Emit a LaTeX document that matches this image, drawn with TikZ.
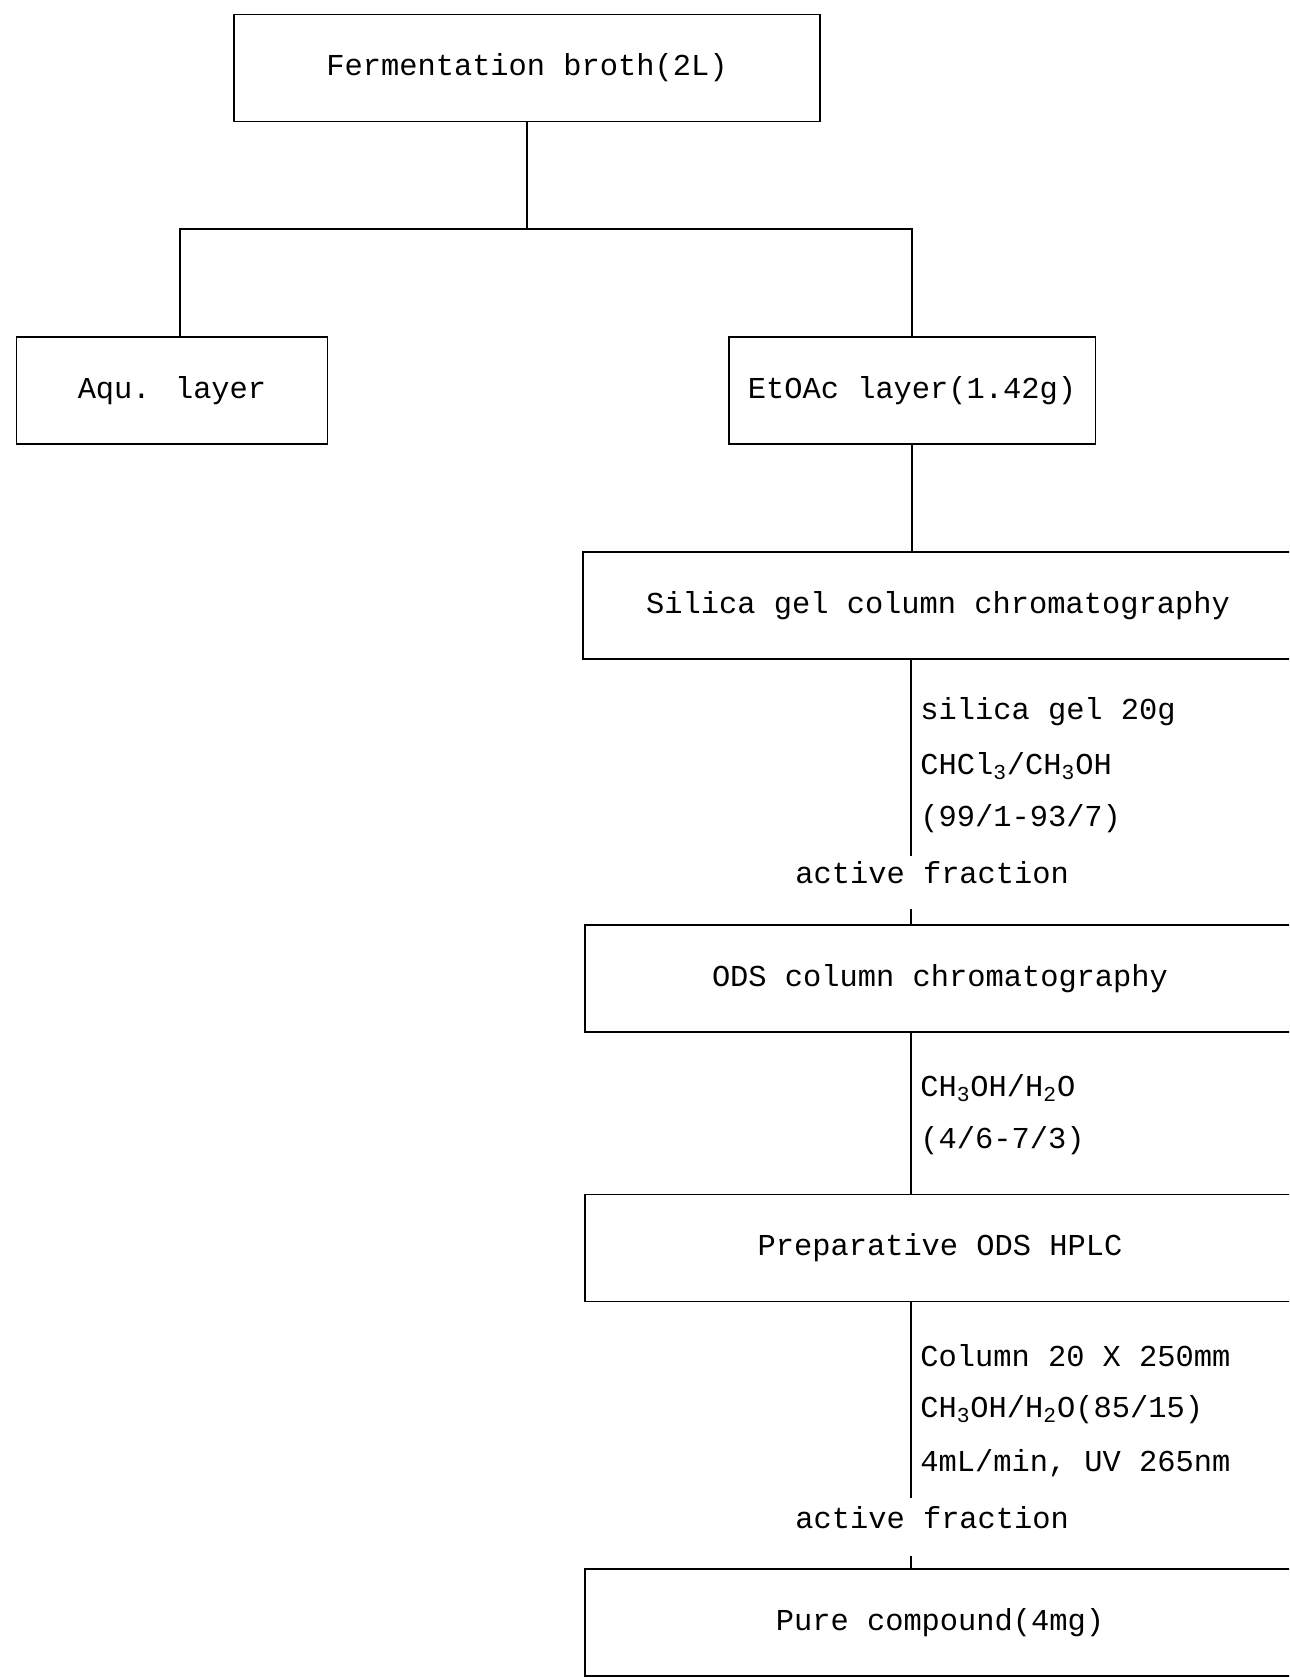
\documentclass[tikz,border=0pt]{standalone}
\usepackage{fontspec}
\setmainfont{Liberation Mono}
\usepackage{tikz}
\usetikzlibrary{positioning, calc}

\begin{document}
\begin{tikzpicture}[
    x=0.02cm, y=-0.02cm,
    box/.style={rectangle, draw, line width=1.1pt, minimum height=2.14cm, align=center, inner sep=0pt, font=\fontsize{17.3}{20}\selectfont},
    link/.style={line width=1.1pt},
    cond/.style={anchor=west, inner sep=0pt, font=\fontsize{17.3}{20}\selectfont},
    frac/.style={anchor=west, inner sep=0pt, font=\fontsize{17.3}{20}\selectfont}
]
\useasboundingbox[clip] (0,0) rectangle (1289,1678);

% upper part
\node[box, minimum width=11.72cm] (broth) at (527,68) {Fermentation broth(2L)};
\node[box, minimum width=6.22cm] (aqu) at (172,390.5) {Aqu. layer};
\node[box, minimum width=7.34cm] (etoac) at (912,390.5) {EtOAc layer(1.42g)};

\draw[link] (broth.south) -- ++(0,107) coordinate (split);
\draw[link] ([xshift=0.16cm]aqu.north) |- (split) -| (etoac.north);

% purification column
\node[box, minimum width=14.2cm] (silica) at (938,605.5) {Silica gel column chromatography};
\node[box, minimum width=14.2cm] (ods) at (940,978.5) {ODS column chromatography};
\node[box, minimum width=14.2cm] (prep) at (940,1248) {Preparative ODS HPLC};
\node[box, minimum width=14.2cm] (pure) at (940,1622.5) {Pure compound(4mg)};

\node[cond] (c1) at (920,712) {silica gel 20g};
\node[cond] (c2) at (920,766) {CHCl\textsubscript{3}/CH\textsubscript{3}OH};
\node[cond] (c3) at (920,819) {(99/1-93/7)};
\node[frac] (act1) at (795,873) {active fraction};

\node[cond] (c4) at (920,1088) {CH\textsubscript{3}OH/H\textsubscript{2}O};
\node[cond] (c5) at (920,1141) {(4/6-7/3)};

\node[cond] (c6) at (920,1356) {Column 20 X 250mm};
\node[cond] (c7) at (920,1410) {CH\textsubscript{3}OH/H\textsubscript{2}O(85/15)};
\node[cond] (c8) at (920,1463) {4mL/min, UV 265nm};
\node[frac] (act2) at (795,1518) {active fraction};

\coordinate (a1top) at (911,856);
\coordinate (a1bot) at (911,909);
\coordinate (a2top) at (911,1498);
\coordinate (a2bot) at (911,1556);

\draw[link] (etoac.south) -- (etoac.south |- silica.north);
\draw[link] (silica.south -| a1top) -- (a1top);
\draw[link] (a1bot) -- (ods.north -| a1bot);
\draw[link] (ods.south -| a1top) -- (prep.north -| a1top);
\draw[link] (prep.south -| a2top) -- (a2top);
\draw[link] (a2bot) -- (pure.north -| a2bot);
\end{tikzpicture}
\end{document}
